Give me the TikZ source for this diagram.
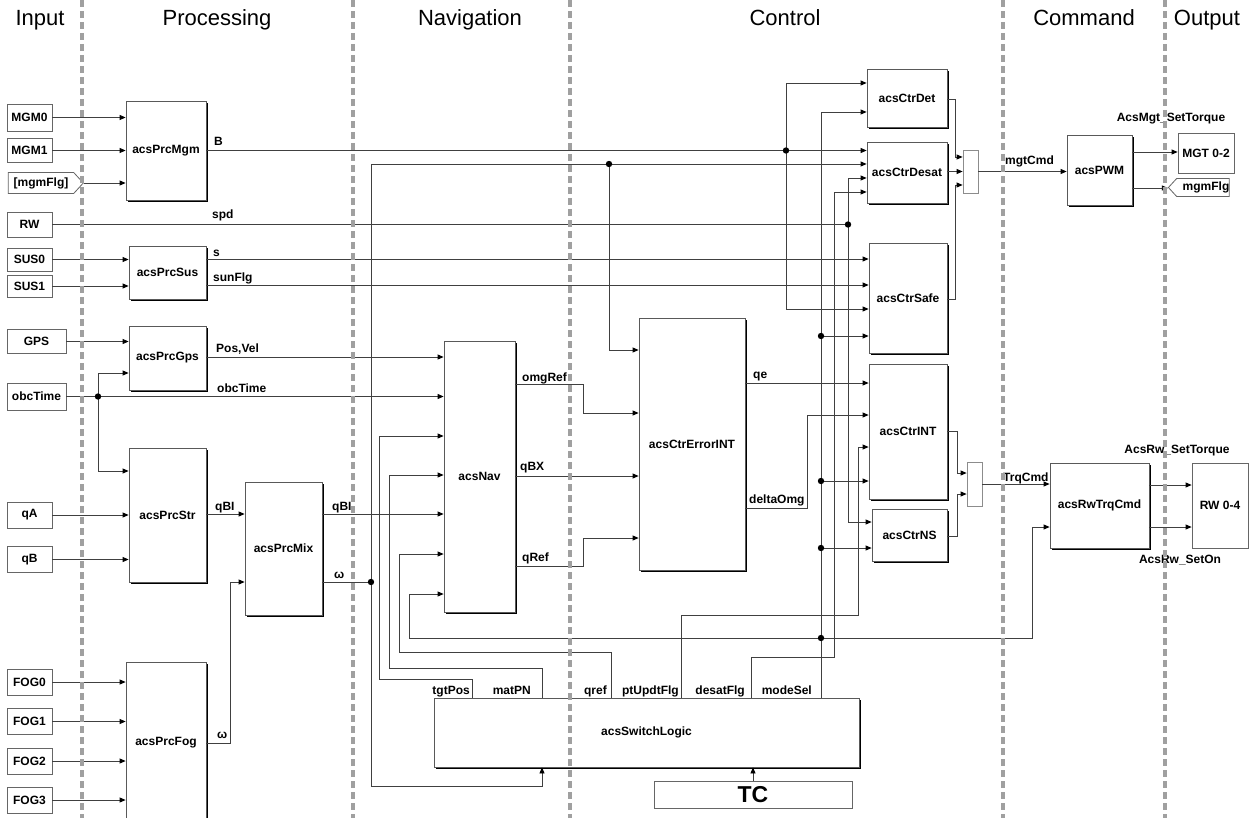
\documentclass[tikz,border=0pt]{standalone}
\usepackage{fontspec}
\setmainfont{Liberation Sans}
\usetikzlibrary{arrows.meta,shadows,shapes.symbols}
\begin{document}
\begin{tikzpicture}[x=1pt,y=-1pt,
  sz/.style 2 args={minimum width=#1pt, minimum height=#2pt},
  blk/.style={draw=black!65, line width=0.8pt, fill=white, inner sep=0pt,
    drop shadow={shadow xshift=2.2pt, shadow yshift=-2.2pt, fill=black, opacity=1},
    font=\fontsize{12}{14}\selectfont\bfseries},
  inbox/.style={draw=black!60, line width=0.8pt, fill=white, inner sep=0pt,
    font=\fontsize{12}{14}\selectfont\bfseries},
  muxbox/.style={draw=black!45, line width=0.8pt, fill=white, inner sep=0pt},
  tagbox/.style={draw=black!60, line width=0.8pt, fill=white, inner sep=0pt, shape=signal,
    signal pointer angle=95, font=\fontsize{12}{14}\selectfont\bfseries},
  wire/.style={draw=black!75, line width=0.8pt},
  sig/.style={draw=black!75, line width=0.8pt, -{Triangle[length=6pt,width=5pt,color=black]}},
  lbl/.style={inner sep=0pt, anchor=base west, font=\fontsize{12}{14}\selectfont\bfseries},
  lble/.style={inner sep=0pt, anchor=base east, font=\fontsize{12}{14}\selectfont\bfseries},
  lblc/.style={inner sep=0pt, anchor=base, font=\fontsize{12}{14}\selectfont\bfseries},
  head/.style={inner sep=0pt, anchor=base, font=\fontsize{22}{26}\selectfont},
  sep/.style={draw={rgb,255:red,160;green,160;blue,160}, line width=4pt, dash pattern=on 7pt off 4pt},
  dot/.style={fill=black}
]
\useasboundingbox (0,0) rectangle (1255,818);

% headers
\node[head] (hIn) at (40,26) {Input};
\node[head] (hPr) at (217,26) {Processing};
\node[head] (hNa) at (470,26) {Navigation};
\node[head] (hCo) at (785,26) {Control};
\node[head] (hCm) at (1084,26) {Command};
\node[head] (hOu) at (1207,26) {Output};

% inputs
\node[inbox, sz={45}{27}] (MGM0) at (29.5,117.5) {MGM0};
\node[inbox, sz={45}{24}] (MGM1) at (29.5,150.5) {MGM1};
\node[tagbox, signal to=east, minimum width=75pt, minimum height=21pt] (mgmIn) at (41,183) {[mgmFlg]\hspace{6pt}};
\node[inbox, sz={45}{25}] (RW) at (29.5,224.5) {RW};
\node[inbox, sz={45}{23}] (SUS0) at (29.5,259.5) {SUS0};
\node[inbox, sz={45}{22}] (SUS1) at (29.5,286) {SUS1};
\node[inbox, sz={59}{24}] (GPS) at (36.5,341.5) {GPS};
\node[inbox, sz={59}{27}] (obcTime) at (36.5,396.5) {obcTime};
\node[inbox, sz={45}{26}] (qA) at (29.5,515) {qA};
\node[inbox, sz={45}{26}] (qB) at (29.5,559.5) {qB};
\node[inbox, sz={45}{26}] (FOG0) at (29.5,682) {FOG0};
\node[inbox, sz={45}{26}] (FOG1) at (29.5,721.5) {FOG1};
\node[inbox, sz={45}{26}] (FOG2) at (29.5,761) {FOG2};
\node[inbox, sz={45}{26}] (FOG3) at (29.5,800) {FOG3};

% processing
\node[blk, sz={80}{99}] (PrcMgm) at (166,150.5) {acsPrcMgm};
\node[blk, sz={77}{53}] (PrcSus) at (167.5,272.5) {acsPrcSus};
\node[blk, sz={77}{64}] (PrcGps) at (167.5,358) {acsPrcGps};
\node[blk, sz={77}{134}] (PrcStr) at (167.5,515) {acsPrcStr};
\node[blk, sz={77}{133}] (PrcMix) at (283.5,548.5) {acsPrcMix};
\node[blk, sz={80}{162}] (PrcFog) at (166,743) {acsPrcFog};

% navigation / control
\node[blk, sz={71}{271}] (Nav) at (479.5,476.5) {acsNav};
\node[blk, sz={106}{252}] (ErrINT) at (692,444) {acsCtrErrorINT};
\node[blk, sz={80}{58}] (CtrDet) at (907,98) {acsCtrDet};
\node[blk, sz={80}{61}] (CtrDesat) at (907,172.5) {acsCtrDesat};
\node[blk, sz={78}{110}] (CtrSafe) at (908,298) {acsCtrSafe};
\node[blk, sz={78}{135}] (CtrINT) at (908,431.5) {acsCtrINT};
\node[blk, sz={75}{52}] (CtrNS) at (909.5,535) {acsCtrNS};
\node[muxbox, sz={15}{43}] (Mux1) at (970.5,171.5) {};
\node[muxbox, sz={15}{44}] (Mux2) at (974.5,484) {};
\node[blk, sz={425}{69}] (Switch) at (646.5,732.5) {acsSwitchLogic};
\node[inbox, sz={198}{27}, font=\fontsize{23}{26}\selectfont\bfseries] (TC) at (753,794.5) {TC};

% command / output
\node[blk, sz={65}{70}] (PWM) at (1099.5,170) {acsPWM};
\node[blk, sz={99}{85}] (RwT) at (1099.5,505.5) {acsRwTrqCmd};
\node[inbox, sz={56}{40}] (MGT) at (1206,153) {MGT 0-2};
\node[tagbox, signal to=west, minimum width=60pt, minimum height=18pt] (mgmOut) at (1203,187.5) {\hspace{6pt}mgmFlg};
\node[inbox, sz={56}{85}] (RW04) at (1220,505.5) {RW 0-4};

% coordinates of branch points
\coordinate (dB) at (786,150.5);
\coordinate (dSpd) at (848,224.5);
\coordinate (dObc) at (98,396.5);
\coordinate (dW) at (371,582);
\coordinate (dW2) at (609,164);
\coordinate (dM1) at (821,336);
\coordinate (dM2) at (821,481);
\coordinate (dM3) at (821,548);
\coordinate (dM4) at (821,638);

% input wires
\draw[sig] (MGM0.east) -- (PrcMgm.west |- MGM0.east);
\draw[sig] (MGM1.east) -- (PrcMgm.west |- MGM1.east);
\draw[sig] (mgmIn.east) -- (PrcMgm.west |- mgmIn.east);
\draw[wire] (RW.east) -- (dSpd);
\draw[sig] (SUS0.east) -- (PrcSus.west |- SUS0.east);
\draw[sig] (SUS1.east) -- (PrcSus.west |- SUS1.east);
\draw[sig] (GPS.east) -- (PrcGps.west |- GPS.east);
\draw[sig] (obcTime.east) -- (Nav.west |- obcTime.east);
\draw[sig] (dObc) |- (PrcGps.west |- 0,373);
\draw[sig] (dObc) |- (PrcStr.west |- 0,471);
\draw[sig] (qA.east) -- (PrcStr.west |- qA.east);
\draw[sig] (qB.east) -- (PrcStr.west |- qB.east);
\draw[sig] (FOG0.east) -- (PrcFog.west |- FOG0.east);
\draw[sig] (FOG1.east) -- (PrcFog.west |- FOG1.east);
\draw[sig] (FOG2.east) -- (PrcFog.west |- FOG2.east);
\draw[sig] (FOG3.east) -- (PrcFog.west |- FOG3.east);

% processing outputs
\draw[sig] (PrcMgm.east) -- (CtrDesat.west |- PrcMgm.east);
\draw[sig] (dB) |- (CtrDet.west |- 0,83);
\draw[sig] (dB) |- (CtrSafe.west |- 0,309);
\draw[sig] (dSpd) |- (CtrDesat.west |- 0,178);
\draw[sig] (dSpd) |- (CtrNS.west |- 0,522);
\draw[sig] (PrcSus.east |- 0,259) -- (CtrSafe.west |- 0,259);
\draw[sig] (PrcSus.east |- 0,285) -- (CtrSafe.west |- 0,285);
\draw[sig] (PrcGps.east |- 0,357) -- (Nav.west |- 0,357);
\draw[sig] (PrcStr.east |- 0,514) -- (PrcMix.west |- 0,514);
\draw[sig] (PrcMix.east |- 0,514) -- (Nav.west |- 0,514);
\draw[wire] (PrcMix.east |- dW) -- (dW);
\draw[sig] (PrcFog.east) -- (230,743) |- (PrcMix.west |- 0,582);
\draw[sig] (dW) |- (CtrDesat.west |- 0,164);
\draw[sig] (dW2) |- (ErrINT.west |- 0,350);
\draw[sig] (dW) |- (542,786) -- (Switch.south -| 542,0);

% navigation outputs
\draw[sig] (Nav.east |- 0,384) -- (583,384) |- (ErrINT.west |- 0,413);
\draw[sig] (Nav.east |- 0,476) -- (ErrINT.west |- 0,476);
\draw[sig] (Nav.east |- 0,566) -- (583,566) |- (ErrINT.west |- 0,538);

% error outputs
\draw[sig] (ErrINT.east |- 0,383) -- (CtrINT.west |- 0,383);
\draw[sig] (ErrINT.east |- 0,508) -- (807,508) |- (CtrINT.west |- 0,415);

% controllers to mux
\draw[sig] (CtrDet.east |- 0,99) -- (955,99) |- (Mux1.west |- 0,157);
\draw[sig] (CtrDesat.east |- 0,171.5) -- (Mux1.west |- 0,171.5);
\draw[sig] (CtrSafe.east |- 0,299) -- (955,299) |- (Mux1.west |- 0,185);
\draw[sig] (CtrINT.east |- 0,431) -- (957,431) |- (Mux2.west |- 0,473);
\draw[sig] (CtrNS.east |- 0,536) -- (957,536) |- (Mux2.west |- 0,494);
\draw[sig] (Mux1.east) -- (PWM.west |- Mux1.east);
\draw[sig] (Mux2.east) -- (RwT.west |- Mux2.east);
\draw[sig] (PWM.east |- 0,152) -- (MGT.west |- 0,152);
\draw[sig] (PWM.east |- 0,188) -- (mgmOut.west |- 0,188);
\draw[sig] (RwT.east |- 0,485) -- (RW04.west |- 0,485);
\draw[sig] (RwT.east |- 0,527) -- (RW04.west |- 0,527);

% switch logic outputs
\draw[sig] (Switch.north -| 472,0) |- (379,679) |- (Nav.west |- 0,436);
\draw[sig] (Switch.north -| 542,0) |- (389,668) |- (Nav.west |- 0,475);
\draw[sig] (Switch.north -| 611,0) |- (399,652) |- (Nav.west |- 0,554);
\draw[sig] (Switch.north -| 681,0) |- (858,615) |- (CtrINT.west |- 0,447);
\draw[sig] (Switch.north -| 751,0) |- (834,657) |- (CtrDesat.west |- 0,192);
\draw[sig] (Switch.north -| 821,0) |- (CtrDet.west |- 0,112);
\draw[sig] (dM1) -- (CtrSafe.west |- dM1);
\draw[sig] (dM2) -- (CtrINT.west |- dM2);
\draw[sig] (dM3) -- (CtrNS.west |- dM3);
\draw[sig] (dM4) -| (409,594) -- (Nav.west |- 0,594);
\draw[sig] (dM4) -| (1032,527) -- (RwT.west |- 0,527);
\draw[sig] (TC.north) -- (Switch.south -| TC.north);

% dots
\foreach \d in {dB,dSpd,dObc,dW,dW2,dM1,dM2,dM3,dM4} \fill[dot] (\d) circle[radius=3.2pt];

% signal labels
\node[lbl] (lB) at (214,146) {B};
\node[lbl] (lspd) at (212,219) {spd};
\node[lbl] (ls) at (213,257) {s};
\node[lbl] (lsun) at (213,281) {sunFlg};
\node[lbl] (lpos) at (216,352) {Pos,Vel};
\node[lbl] (lobc) at (217,392) {obcTime};
\node[lbl] (lqbi1) at (215,510) {qBI};
\node[lbl] (lqbi2) at (332,510) {qBI};
\node[lbl] (lw1) at (334,578) {ω};
\node[lbl] (lw2) at (217,738) {ω};
\node[lbl] (lomg) at (522,381) {omgRef};
\node[lbl] (lqbx) at (520,470) {qBX};
\node[lbl] (lqref) at (522,561) {qRef};
\node[lbl] (lqe) at (753,378) {qe};
\node[lbl] (ldel) at (749,503) {deltaOmg};
\node[lbl] (lmgt) at (1005,165) {mgtCmd};
\node[lbl] (ltrq) at (1003,481) {TrqCmd};
\node[lblc] (lamgt) at (1171,122) {AcsMgt\_SetTorque};
\node[lblc] (larw) at (1177,453) {AcsRw\_SetTorque};
\node[lblc] (laron) at (1180,563) {AcsRw\_SetOn};
\node[lble] (ltgt) at (470,694) {tgtPos};
\node[lble] (lmat) at (531,694) {matPN};
\node[lble] (lqr) at (607,694) {qref};
\node[lble] (lpt) at (679,694) {ptUpdtFlg};
\node[lble] (lds) at (745,694) {desatFlg};
\node[lble] (lmd) at (812,694) {modeSel};

% lane separators
\foreach \x in {82,353,570,1003,1165} \draw[sep] (\x,0) -- (\x,818);
\end{tikzpicture}
\end{document}
